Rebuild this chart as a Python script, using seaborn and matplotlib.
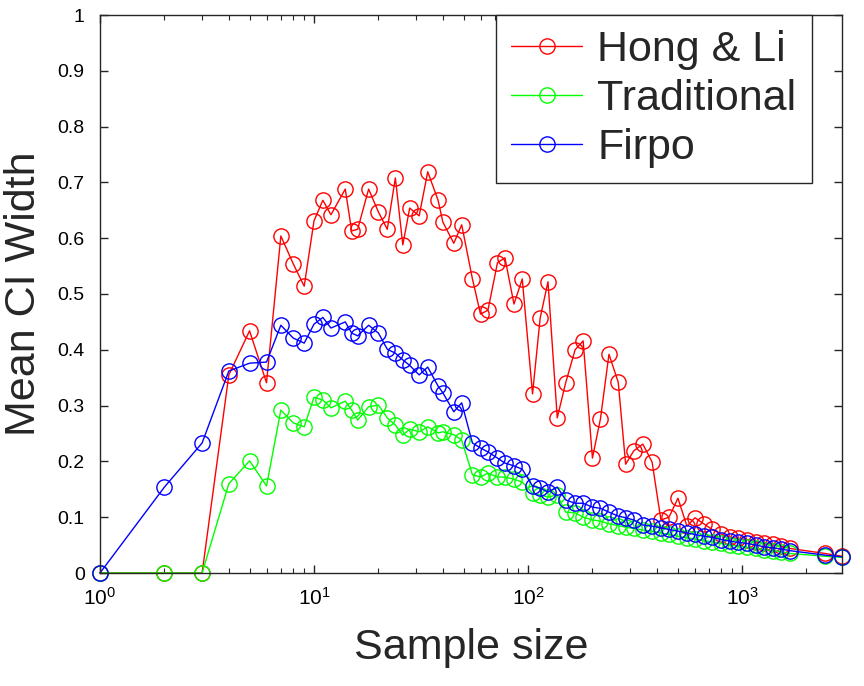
import numpy as np
import pandas as pd
import matplotlib
matplotlib.use("Agg")
import matplotlib.pyplot as plt
import seaborn as sns

# sample sizes (shared by all three series)
sample_size = [1, 2, 3, 4, 5, 6, 7, 8, 9, 10, 11, 12, 14, 15, 16, 18, 20, 22, 24, 26,
               28, 31, 34, 38, 40, 45, 49, 55, 60, 65, 72, 78, 86, 94, 105, 114, 124,
               137, 150, 166, 181, 200, 218, 239, 264, 286, 312, 344, 380, 418, 456,
               502, 553, 603, 664, 724, 798, 879, 958, 1055, 1163, 1267, 1396, 1521,
               1676, 2443, 2933]

hong_li = [0, 0, 0, 0.355, 0.434, 0.341, 0.604, 0.554, 0.514, 0.631, 0.668, 0.642,
           0.688, 0.613, 0.616, 0.688, 0.647, 0.616, 0.708, 0.588, 0.654, 0.640, 0.719,
           0.668, 0.629, 0.591, 0.624, 0.527, 0.464, 0.471, 0.556, 0.565, 0.482, 0.527,
           0.321, 0.457, 0.522, 0.278, 0.341, 0.400, 0.416, 0.206, 0.276, 0.392, 0.342,
           0.195, 0.219, 0.231, 0.199, 0.095, 0.100, 0.134, 0.084, 0.099, 0.088, 0.078,
           0.070, 0.064, 0.062, 0.060, 0.056, 0.053, 0.052, 0.048, 0.044, 0.035, 0.030]

traditional = [0, 0, 0, 0.160, 0.201, 0.156, 0.292, 0.269, 0.262, 0.315, 0.310, 0.296,
               0.308, 0.292, 0.274, 0.298, 0.301, 0.278, 0.265, 0.247, 0.258, 0.253, 0.262,
               0.251, 0.253, 0.248, 0.238, 0.176, 0.172, 0.179, 0.172, 0.172, 0.168, 0.163,
               0.143, 0.140, 0.136, 0.140, 0.109, 0.108, 0.100, 0.095, 0.093, 0.088, 0.085,
               0.082, 0.080, 0.077, 0.075, 0.072, 0.069, 0.066, 0.063, 0.061, 0.058, 0.056,
               0.053, 0.050, 0.048, 0.046, 0.044, 0.042, 0.040, 0.038, 0.035, 0.030, 0.028]

firpo = [0, 0.154, 0.233, 0.362, 0.376, 0.378, 0.444, 0.421, 0.412, 0.446, 0.458, 0.439,
         0.450, 0.430, 0.425, 0.444, 0.430, 0.401, 0.394, 0.382, 0.372, 0.355, 0.369,
         0.335, 0.323, 0.289, 0.305, 0.233, 0.224, 0.217, 0.206, 0.197, 0.192, 0.186,
         0.156, 0.152, 0.145, 0.154, 0.131, 0.125, 0.125, 0.118, 0.116, 0.109, 0.102,
         0.099, 0.095, 0.086, 0.084, 0.081, 0.078, 0.075, 0.072, 0.069, 0.066, 0.064,
         0.060, 0.057, 0.055, 0.053, 0.050, 0.047, 0.045, 0.043, 0.040, 0.032, 0.029]

series_names = ["Hong & Li", "Traditional", "Firpo"]
series_colors = ["#ff0000", "#00ff00", "#0000ff"]

sns.set_style("ticks")
plt.rcParams['font.family'] = ['Liberation Sans', 'DejaVu Sans']
plt.rcParams['mathtext.fontset'] = 'custom'
plt.rcParams['mathtext.rm'] = 'Liberation Sans'
plt.rcParams['mathtext.it'] = 'Liberation Sans'

fig = plt.figure(figsize=(8.64, 6.86), dpi=100)
ax = fig.add_axes([100/864, 1 - 573/686, 742/864, 558/686])

for name, vals, col in zip(series_names, [hong_li, traditional, firpo], series_colors):
    df = pd.DataFrame({"n": sample_size, "w": vals})
    sns.lineplot(data=df, x="n", y="w", ax=ax, color=col, lw=1.0, marker="o",
                 markersize=11, markerfacecolor="none", markeredgecolor=col,
                 markeredgewidth=1.0, label=name, sort=False, clip_on=False)

ax.set_xscale("log")
ax.set_xlim(1, 2933)
ax.set_ylim(0, 1)
ax.set_yticks(np.arange(0, 1.01, 0.1))
ax.set_yticklabels(["0", "0.1", "0.2", "0.3", "0.4", "0.5", "0.6", "0.7", "0.8", "0.9", "1"])
ax.set_xlabel("Sample size", fontsize=31, labelpad=14)
ax.set_ylabel("Mean CI Width", fontsize=31, labelpad=10)

for s in ax.spines.values():
    s.set_visible(True)
    s.set_color("#262626")
    s.set_linewidth(1.0)
ax.tick_params(which="both", direction="in", top=True, right=True, colors="#262626",
               labelcolor="black")
ax.tick_params(axis="y", which="major", pad=11, labelsize=14)
ax.tick_params(axis="x", which="major", pad=10, labelsize=15)
ax.tick_params(which="major", length=6, width=1.0)
ax.tick_params(which="minor", length=3.5, width=0.8)

leg = ax.legend(loc="upper right", bbox_to_anchor=(712/742, 1.0), fontsize=31,
                frameon=True, fancybox=False, edgecolor="#262626", framealpha=1,
                handlelength=1.65, handletextpad=0.35, labelspacing=0.2,
                borderpad=0.36, borderaxespad=0)
leg.get_frame().set_linewidth(1.0)

fig.savefig("out.png", dpi=100)
